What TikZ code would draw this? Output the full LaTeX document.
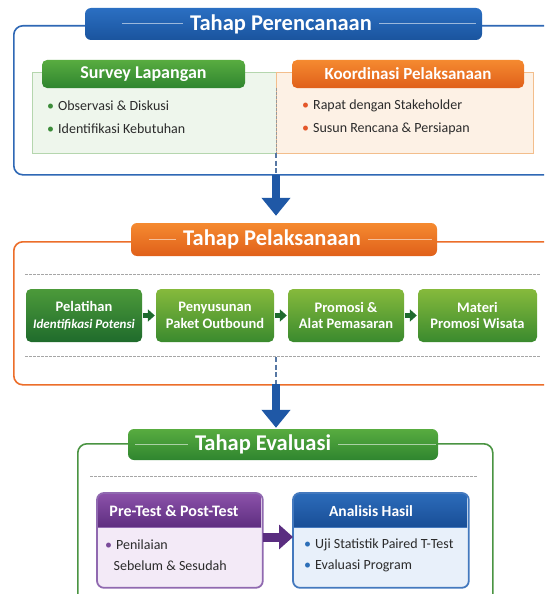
\documentclass[tikz,border=0pt]{standalone}
\usepackage{fontspec}
\setmainfont{Carlito}
\usetikzlibrary{arrows.meta}
\definecolor{bluetop}{HTML}{2B6FC2}
\definecolor{bluebot}{HTML}{1A549E}
\definecolor{blueframe}{HTML}{2F68B5}
\definecolor{orgtop}{HTML}{F58A30}
\definecolor{orgbot}{HTML}{E0601A}
\definecolor{orgframe}{HTML}{EC6E2A}
\definecolor{grntop}{HTML}{58AC40}
\definecolor{grnbot}{HTML}{2F852F}
\definecolor{grnframe}{HTML}{4A9442}
\definecolor{gpanel}{HTML}{EEF6EC}
\definecolor{gpanelb}{HTML}{B5D6AE}
\definecolor{opanel}{HTML}{FDF1E5}
\definecolor{opanelb}{HTML}{F3BE8C}
\definecolor{gbul}{HTML}{3C8C3A}
\definecolor{obul}{HTML}{E4572A}
\definecolor{txt}{HTML}{2B2B2B}
\definecolor{boxatop}{HTML}{4C9A3A}
\definecolor{boxabot}{HTML}{1F6B2C}
\definecolor{boxbtop}{HTML}{86BA3C}
\definecolor{boxbbot}{HTML}{3A8A2E}
\definecolor{smallarr}{HTML}{1E6B2E}
\definecolor{bigarr}{HTML}{1F58A6}
\definecolor{dashv}{HTML}{5677A3}
\definecolor{purtop}{HTML}{8C52AA}
\definecolor{purbot}{HTML}{5E2E80}
\definecolor{purfill}{HTML}{F3EAF7}
\definecolor{purbord}{HTML}{9069B0}
\definecolor{purarr}{HTML}{5A2D80}
\definecolor{anatop}{HTML}{2C6CBA}
\definecolor{anabot}{HTML}{194E97}
\definecolor{anafill}{HTML}{E8F0FA}
\definecolor{anabord}{HTML}{4479BE}
\definecolor{pbul}{HTML}{7A4B9A}
\definecolor{abul}{HTML}{2D6FB8}
\newcommand{\setfs}[1]{\fontsize{#1}{#1}\selectfont}
\tikzset{
  frm/.style={draw, line width=1.6pt, rounded corners=9pt, anchor=north west, inner sep=0pt},
  banner/.style={rounded corners=6pt, inner sep=0pt},
  bantext/.style={text=white, font=\setfs{22.5}\bfseries, inner sep=0pt},
  banline/.style={white, opacity=0.55, line width=1pt},
  hdr/.style={rounded corners=5pt, text=white, font=\setfs{17}\bfseries, inner sep=0pt},
  panel/.style={draw, line width=0.9pt, anchor=north west, inner sep=0pt},
  bul/.style={anchor=west, text=txt, font=\setfs{14}, inner sep=0pt},
  gbox/.style={rounded corners=5pt, text=white, font=\setfs{14.5}\bfseries, align=center, inner sep=0pt, minimum height=53pt},
  smarrow/.style={line width=5pt, smallarr, -{Triangle[width=12pt,length=7pt]}, shorten <=1pt, shorten >=1pt},
  bigarrow/.style={line width=8pt, bigarr, -{Triangle[width=28pt,length=18pt]}},
  hdash/.style={gray!70, line width=0.6pt, dash pattern=on 2.5pt off 1.5pt},
  vdash/.style={dashv, line width=2.6pt, dash pattern=on 5pt off 2.5pt},
  evbox/.style={line width=1.8pt, rounded corners=7pt, anchor=north west, inner sep=0pt},
}
\begin{document}
\begin{tikzpicture}[x=1pt,y=-1pt]
\useasboundingbox (0,0) rectangle (544,594);
\clip (0,0) rectangle (544,594);
\fill[white] (0,0) rectangle (544,594);

% ---------- Section 1 ----------
\node[frm, draw=blueframe, minimum width=560pt, minimum height=149pt] (f1) at (13,25) {};
\node[banner, top color=bluetop, bottom color=bluebot, minimum width=397pt, minimum height=32pt] (b1) at (283.5,24) {};
\node[bantext] (t1) at (281,24) {Tahap Perencanaan};
\draw[banline] ([xshift=37pt]b1.west) -- ([xshift=-7pt]t1.west);
\draw[banline] ([xshift=7pt]t1.east) -- ([xshift=-6pt]b1.east);

\node[panel, draw=gpanelb, fill=gpanel, minimum width=244pt, minimum height=81pt] (gp) at (32,72) {};
\node[panel, draw=opanelb, fill=opanel, minimum width=257pt, minimum height=81pt] (op) at (276,72) {};
\node[hdr, top color=grntop, bottom color=grnbot, minimum width=203pt, minimum height=28pt, font=\setfs{18}\bfseries] (sv) at (143.5,74) {Survey Lapangan};
\node[hdr, top color=orgtop, bottom color=orgbot, minimum width=232pt, minimum height=28pt] (ko) at (408,74) {Koordinasi Pelaksanaan};

\node[bul] (g1) at (47,106) {\textcolor{gbul}{•}\hspace{4pt}Observasi \& Diskusi};
\node[bul] (g2) at (47,129) {\textcolor{gbul}{•}\hspace{4pt}Identifikasi Kebutuhan};
\node[bul] (o1) at (302,106) {\textcolor{obul}{•}\hspace{4pt}Rapat dengan Stakeholder};
\node[bul] (o2) at (302,129) {\textcolor{obul}{•}\hspace{4pt}Susun Rencana \& Persiapan};

\coordinate (d1a) at (276,88);
\coordinate (d1b) at (276,153);
\coordinate (d1c) at (276,175);
\draw[gray!80, line width=0.7pt, dash pattern=on 2.5pt off 1.5pt] (d1a) -- (d1b);
\draw[vdash] (d1b) -- (d1c);

% ---------- Section 2 ----------
\node[frm, draw=orgframe, minimum width=560pt, minimum height=143pt] (f2) at (13,241) {};
\node[banner, top color=orgtop, bottom color=orgbot, minimum width=306pt, minimum height=33pt] (b2) at (284,239.5) {};
\node[bantext] (t2) at (272,239.5) {Tahap Pelaksanaan};
\draw[banline] ([xshift=18pt]b2.west) -- ([xshift=-7pt]t2.west);
\draw[banline] ([xshift=7pt]t2.east) -- ([xshift=-5pt]b2.east);

\draw[bigarrow, shorten >=7pt] (d1c) -- (b2.north -| d1c);

\coordinate (h2a) at (25,274);
\coordinate (h2b) at (541,274);
\coordinate (h2c) at (25,356);
\coordinate (h2d) at (541,356);
\draw[hdash] (h2a) -- (h2b);
\draw[hdash] (h2c) -- (h2d);

\node[gbox, top color=boxatop, bottom color=boxabot, minimum width=116pt] (p1) at (84,315.5) {Pelatihan\\[2pt]\setfs{13}\textit{Identifikasi Potensi}};
\node[gbox, top color=boxbtop, bottom color=boxbbot, minimum width=118pt] (p2) at (215,315.5) {Penyusunan\\[2pt]Paket Outbound};
\node[gbox, top color=boxbtop, bottom color=boxbbot, minimum width=116pt] (p3) at (346,315.5) {Promosi \&\\[2pt]Alat Pemasaran};
\node[gbox, top color=boxbtop, bottom color=boxbbot, minimum width=119pt] (p4) at (477.5,315.5) {Materi\\[2pt]Promosi Wisata};
\draw[smarrow] (p1) -- (p2);
\draw[smarrow] (p2) -- (p3);
\draw[smarrow] (p3) -- (p4);

\coordinate (d2a) at (276,357);
\coordinate (d2b) at (276,384);
\draw[vdash] (d2a) -- (d2b);

% ---------- Section 3 ----------
\node[frm, draw=grnframe, minimum width=415pt, minimum height=180pt] (f3) at (77,443) {};
\node[banner, top color=grntop, bottom color=grnbot, minimum width=310pt, minimum height=31pt] (b3) at (283,444.5) {};
\node[bantext] (t3) at (263,444.5) {Tahap Evaluasi};
\draw[banline] ([xshift=7pt]b3.west) -- ([xshift=-7pt]t3.west);
\draw[banline] ([xshift=7pt]t3.east) -- ([xshift=-2pt]b3.east);

\draw[bigarrow, shorten >=1pt] (d2b) -- (b3.north -| d2b);

\coordinate (h3a) at (90,476);
\coordinate (h3b) at (477,476);
\draw[hdash] (h3a) -- (h3b);

% Pre-test box
\node[evbox, fill=purfill, minimum width=164pt, minimum height=93pt] (pre) at (97,493) {};
\begin{scope}
\clip[rounded corners=7pt] (pre.north west) rectangle (pre.south east);
\shade[top color=purtop, bottom color=purbot] (97,493) rectangle (261,527);
\end{scope}
\draw[purbord, line width=1pt] (97,527) -- (261,527);
\draw[purbord, line width=1.8pt, rounded corners=7pt] (pre.north west) rectangle (pre.south east);
\node[text=white, font=\setfs{16}\bfseries, inner sep=0pt] (preh) at (174,511) {Pre-Test \& Post-Test};
\node[bul] (pb1) at (105,545) {\textcolor{pbul}{•}\hspace{4pt}Penilaian};
\node[bul] (pb2) at (113.5,566) {Sebelum \& Sesudah};

% Analisis box
\node[evbox, fill=anafill, minimum width=174pt, minimum height=93pt] (ana) at (293,493) {};
\begin{scope}
\clip[rounded corners=7pt] (ana.north west) rectangle (ana.south east);
\shade[top color=anatop, bottom color=anabot] (293,493) rectangle (467,527);
\end{scope}
\draw[anabord, line width=1pt] (293,527) -- (467,527);
\draw[anabord, line width=1.8pt, rounded corners=7pt] (ana.north west) rectangle (ana.south east);
\node[text=white, font=\setfs{15.5}\bfseries, inner sep=0pt] (anah) at (371,511) {Analisis Hasil};
\node[bul] (ab1) at (304,545) {\textcolor{abul}{•}\hspace{4pt}Uji Statistik Paired T-Test};
\node[bul] (ab2) at (304,566) {\textcolor{abul}{•}\hspace{4pt}Evaluasi Program};

\draw[line width=9pt, purarr, -{Triangle[width=24pt,length=14pt]}] (pre.east |- 0,537) -- (ana.west |- 0,537);
\end{tikzpicture}
\end{document}
